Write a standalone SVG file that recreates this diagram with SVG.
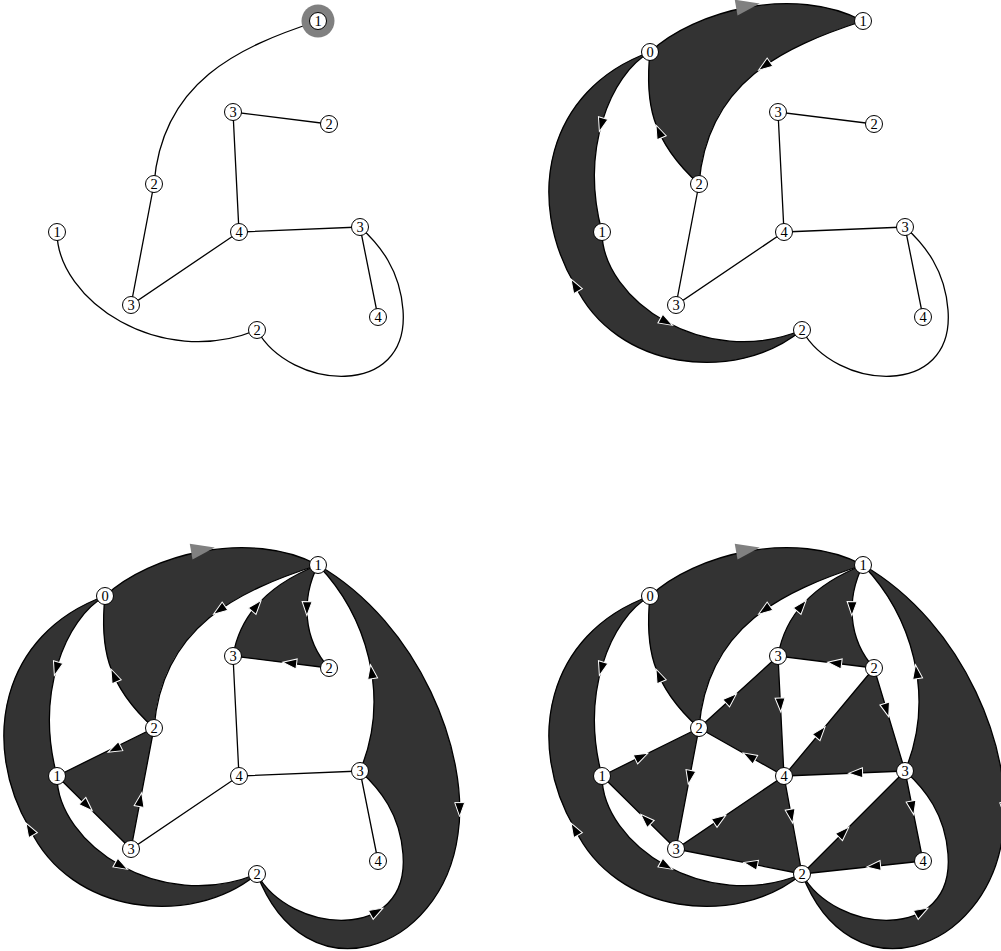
<svg xmlns="http://www.w3.org/2000/svg" xmlns:xlink="http://www.w3.org/1999/xlink" width="1001" height="951" viewBox="0 0 1001 951">
<style>
.edge{fill:none;stroke:#000;stroke-width:1.3}
.face{fill:#333;stroke:none}
.node circle{fill:#fff;stroke:#000;stroke-width:1}
.node text{font-family:"Liberation Serif","DejaVu Serif",serif;font-size:14.5px;text-anchor:middle;fill:#000}
.ah{fill:#000;stroke:#fff;stroke-width:1;stroke-linejoin:miter}
.gah{fill:#808080;stroke:none}
</style>
<defs>
<path id="eA1D2" d="M318,21 C238,47 162,82 154,184"/>
<path id="eK0A1" d="M105,52 C150,10 250,-15 318,21"/>
<path id="eK0D2" d="M105,52 C100,100 105,140 154,184"/>
<path id="eK0E1" d="M105,52 C65,75 35,150 57,232"/>
<path id="eE1J2" d="M57,232 C57,300 160,370 257,330"/>
<path id="eLoop" d="M257,330 C290,390 410,400 403,310 C400,270 380,245 360,227"/>
<path id="eOutL" d="M105,52 C0,90 -20,200 30,285 C70,370 190,385 257,330"/>
<path id="eOutR" d="M318,21 C420,80 470,210 458,290 C442,410 305,455 257,330"/>
<path id="eA1B3" d="M318,21 C270,40 240,70 233,112"/>
<path id="eA1C2" d="M318,21 C301,55 303,95 329,124"/>
<path id="eA1G3" d="M318,21 C365,70 392,150 360,227"/>
<path id="base1" d="M154,184 L131,305 L239,232 L233,112 L329,124 M239,232 L360,227 L378,317"/>
<path id="extra3" d="M57,232 L154,184 M57,232 L131,305"/>
<path id="extra4" d="M154,184 L233,112 M154,184 L239,232 M329,124 L239,232 M329,124 L360,227 M131,305 L257,330 M239,232 L257,330 M360,227 L257,330 M378,317 L257,330"/>
<path id="fTop" d="M105,52 C150,10 250,-15 318,21 C238,47 162,82 154,184 C105,140 100,100 105,52 Z"/>
<path id="fLeft" d="M105,52 C0,90 -20,200 30,285 C70,370 190,385 257,330 C160,370 57,300 57,232 C35,150 65,75 105,52 Z"/>
<path id="fEDH" d="M57,232 L154,184 L131,305 Z"/>
<path id="fABC" d="M318,21 C270,40 240,70 233,112 L329,124 C303,95 301,55 318,21 Z"/>
<path id="fRight" d="M318,21 C420,80 470,210 458,290 C442,410 305,455 257,330 C290,390 410,400 403,310 C400,270 380,245 360,227 C392,150 365,70 318,21 Z"/>
<path id="fDBF" d="M154,184 L233,112 L239,232 Z"/>
<path id="fCGF" d="M329,124 L360,227 L239,232 Z"/>
<path id="fHFJ" d="M131,305 L239,232 L257,330 Z"/>
<path id="fGIJ" d="M360,227 L378,317 L257,330 Z"/>
<polygon id="ah" class="ah" points="8,0 -6,-5 -6,5"/>
<polygon id="gah" class="gah" points="15,0 -9,-8 -9,8"/>
</defs>

<!-- Panel 1 -->
<g id="panel1">
  <g id="p1-connectors">
    <use href="#eA1D2" class="edge"/>
    <use href="#eE1J2" class="edge"/>
    <use href="#eLoop" class="edge"/>
    <use href="#base1" class="edge"/>
  </g>
  <circle id="p1-halo" cx="318" cy="21" r="16.5" fill="#808080"/>
  <g id="p1-A1" class="node" transform="translate(318,21)"><circle r="8.5"/><text y="5">1</text></g>
  <g id="p1-B3" class="node" transform="translate(233,112)"><circle r="8.5"/><text y="5">3</text></g>
  <g id="p1-C2" class="node" transform="translate(329,124)"><circle r="8.5"/><text y="5">2</text></g>
  <g id="p1-D2" class="node" transform="translate(154,184)"><circle r="8.5"/><text y="5">2</text></g>
  <g id="p1-E1" class="node" transform="translate(57,232)"><circle r="8.5"/><text y="5">1</text></g>
  <g id="p1-F4" class="node" transform="translate(239,232)"><circle r="8.5"/><text y="5">4</text></g>
  <g id="p1-G3" class="node" transform="translate(360,227)"><circle r="8.5"/><text y="5">3</text></g>
  <g id="p1-H3" class="node" transform="translate(131,305)"><circle r="8.5"/><text y="5">3</text></g>
  <g id="p1-I4" class="node" transform="translate(378,317)"><circle r="8.5"/><text y="5">4</text></g>
  <g id="p1-J2" class="node" transform="translate(257,330)"><circle r="8.5"/><text y="5">2</text></g>
</g>

<!-- Panel 2 -->
<g id="panel2" transform="translate(545,0)">
  <use href="#fTop" class="face"/>
  <use href="#fLeft" class="face"/>
  <g id="p2-connectors">
    <use href="#eK0A1" class="edge"/>
    <use href="#eA1D2" class="edge"/>
    <use href="#eK0D2" class="edge"/>
    <use href="#eK0E1" class="edge"/>
    <use href="#eOutL" class="edge"/>
    <use href="#eE1J2" class="edge"/>
    <use href="#eLoop" class="edge"/>
    <use href="#base1" class="edge"/>
    <use href="#gah" transform="translate(200,6) rotate(-10)"/>
    <use href="#ah" transform="translate(220.1,65.6) rotate(145)"/>
    <use href="#ah" transform="translate(114.2,132.3) rotate(-114)"/>
    <use href="#ah" transform="translate(56.6,123.8) rotate(106)"/>
    <use href="#ah" transform="translate(30,286) rotate(-120)"/>
    <use href="#ah" transform="translate(120.6,321.5) rotate(29)"/>
  </g>
  <g id="p2-K0" class="node" transform="translate(105,52)"><circle r="8.5"/><text y="5">0</text></g>
  <g id="p2-A1" class="node" transform="translate(318,21)"><circle r="8.5"/><text y="5">1</text></g>
  <g id="p2-B3" class="node" transform="translate(233,112)"><circle r="8.5"/><text y="5">3</text></g>
  <g id="p2-C2" class="node" transform="translate(329,124)"><circle r="8.5"/><text y="5">2</text></g>
  <g id="p2-D2" class="node" transform="translate(154,184)"><circle r="8.5"/><text y="5">2</text></g>
  <g id="p2-E1" class="node" transform="translate(57,232)"><circle r="8.5"/><text y="5">1</text></g>
  <g id="p2-F4" class="node" transform="translate(239,232)"><circle r="8.5"/><text y="5">4</text></g>
  <g id="p2-G3" class="node" transform="translate(360,227)"><circle r="8.5"/><text y="5">3</text></g>
  <g id="p2-H3" class="node" transform="translate(131,305)"><circle r="8.5"/><text y="5">3</text></g>
  <g id="p2-I4" class="node" transform="translate(378,317)"><circle r="8.5"/><text y="5">4</text></g>
  <g id="p2-J2" class="node" transform="translate(257,330)"><circle r="8.5"/><text y="5">2</text></g>
</g>

<!-- Panel 3 -->
<g id="panel3" transform="translate(0,544)">
  <use href="#fTop" class="face"/>
  <use href="#fLeft" class="face"/>
  <use href="#fEDH" class="face"/>
  <use href="#fABC" class="face"/>
  <use href="#fRight" class="face"/>
  <g id="p3-connectors">
    <use href="#eK0A1" class="edge"/>
    <use href="#eA1D2" class="edge"/>
    <use href="#eK0D2" class="edge"/>
    <use href="#eK0E1" class="edge"/>
    <use href="#eOutL" class="edge"/>
    <use href="#eE1J2" class="edge"/>
    <use href="#eLoop" class="edge"/>
    <use href="#eOutR" class="edge"/>
    <use href="#eA1B3" class="edge"/>
    <use href="#eA1C2" class="edge"/>
    <use href="#eA1G3" class="edge"/>
    <use href="#base1" class="edge"/>
    <use href="#extra3" class="edge"/>
    <use href="#gah" transform="translate(200,6) rotate(-10)"/>
    <use href="#ah" transform="translate(220.1,65.6) rotate(145)"/>
    <use href="#ah" transform="translate(114.2,132.3) rotate(-114)"/>
    <use href="#ah" transform="translate(56.6,123.8) rotate(106)"/>
    <use href="#ah" transform="translate(30,286) rotate(-120)"/>
    <use href="#ah" transform="translate(120.6,321.5) rotate(29)"/>
    <use href="#ah" transform="translate(256,62.5) rotate(-50)"/>
    <use href="#ah" transform="translate(307,63.6) rotate(91)"/>
    <use href="#ah" transform="translate(290.6,119.2) rotate(187)"/>
    <use href="#ah" transform="translate(371.7,128.7) rotate(-99)"/>
    <use href="#ah" transform="translate(459.7,264.6) rotate(90)"/>
    <use href="#ah" transform="translate(376,368) rotate(-29)"/>
    <use href="#ah" transform="translate(115.2,204.8) rotate(153.7)"/>
    <use href="#ah" transform="translate(86.6,261.2) rotate(44.6)"/>
    <use href="#ah" transform="translate(140.2,256.6) rotate(-79.2)"/>
  </g>
  <g id="p3-K0" class="node" transform="translate(105,52)"><circle r="8.5"/><text y="5">0</text></g>
  <g id="p3-A1" class="node" transform="translate(318,21)"><circle r="8.5"/><text y="5">1</text></g>
  <g id="p3-B3" class="node" transform="translate(233,112)"><circle r="8.5"/><text y="5">3</text></g>
  <g id="p3-C2" class="node" transform="translate(329,124)"><circle r="8.5"/><text y="5">2</text></g>
  <g id="p3-D2" class="node" transform="translate(154,184)"><circle r="8.5"/><text y="5">2</text></g>
  <g id="p3-E1" class="node" transform="translate(57,232)"><circle r="8.5"/><text y="5">1</text></g>
  <g id="p3-F4" class="node" transform="translate(239,232)"><circle r="8.5"/><text y="5">4</text></g>
  <g id="p3-G3" class="node" transform="translate(360,227)"><circle r="8.5"/><text y="5">3</text></g>
  <g id="p3-H3" class="node" transform="translate(131,305)"><circle r="8.5"/><text y="5">3</text></g>
  <g id="p3-I4" class="node" transform="translate(378,317)"><circle r="8.5"/><text y="5">4</text></g>
  <g id="p3-J2" class="node" transform="translate(257,330)"><circle r="8.5"/><text y="5">2</text></g>
</g>

<!-- Panel 4 -->
<g id="panel4" transform="translate(545,544)">
  <use href="#fTop" class="face"/>
  <use href="#fLeft" class="face"/>
  <use href="#fEDH" class="face"/>
  <use href="#fABC" class="face"/>
  <use href="#fRight" class="face"/>
  <use href="#fDBF" class="face"/>
  <use href="#fCGF" class="face"/>
  <use href="#fHFJ" class="face"/>
  <use href="#fGIJ" class="face"/>
  <g id="p4-connectors">
    <use href="#eK0A1" class="edge"/>
    <use href="#eA1D2" class="edge"/>
    <use href="#eK0D2" class="edge"/>
    <use href="#eK0E1" class="edge"/>
    <use href="#eOutL" class="edge"/>
    <use href="#eE1J2" class="edge"/>
    <use href="#eLoop" class="edge"/>
    <use href="#eOutR" class="edge"/>
    <use href="#eA1B3" class="edge"/>
    <use href="#eA1C2" class="edge"/>
    <use href="#eA1G3" class="edge"/>
    <use href="#base1" class="edge"/>
    <use href="#extra3" class="edge"/>
    <use href="#extra4" class="edge"/>
    <use href="#gah" transform="translate(200,6) rotate(-10)"/>
    <use href="#ah" transform="translate(220.1,65.6) rotate(145)"/>
    <use href="#ah" transform="translate(114.2,132.3) rotate(-114)"/>
    <use href="#ah" transform="translate(56.6,123.8) rotate(106)"/>
    <use href="#ah" transform="translate(30,286) rotate(-120)"/>
    <use href="#ah" transform="translate(120.6,321.5) rotate(29)"/>
    <use href="#ah" transform="translate(256,62.5) rotate(-50)"/>
    <use href="#ah" transform="translate(307,63.6) rotate(91)"/>
    <use href="#ah" transform="translate(290.6,119.2) rotate(187)"/>
    <use href="#ah" transform="translate(371.7,128.7) rotate(-99)"/>
    <use href="#ah" transform="translate(459.7,264.6) rotate(90)"/>
    <use href="#ah" transform="translate(376,368) rotate(-29)"/>
    <use href="#ah" transform="translate(95.8,212.8) rotate(-26.3)"/>
    <use href="#ah" transform="translate(144.8,232.4) rotate(100.8)"/>
    <use href="#ah" transform="translate(101.4,275.8) rotate(-135.4)"/>
    <use href="#ah" transform="translate(185.6,155.2) rotate(-42.3)"/>
    <use href="#ah" transform="translate(235.4,160) rotate(87.1)"/>
    <use href="#ah" transform="translate(205,212.8) rotate(-150.5)"/>
    <use href="#ah" transform="translate(275,188.8) rotate(-50.2)"/>
    <use href="#ah" transform="translate(341.4,165.2) rotate(73.2)"/>
    <use href="#ah" transform="translate(311.6,229) rotate(177.6)"/>
    <use href="#ah" transform="translate(174.2,275.8) rotate(-34.1)"/>
    <use href="#ah" transform="translate(246.2,271.2) rotate(79.6)"/>
    <use href="#ah" transform="translate(206.6,320) rotate(191.2)"/>
    <use href="#ah" transform="translate(298.2,288.8) rotate(-45)"/>
    <use href="#ah" transform="translate(367.2,263) rotate(78.7)"/>
    <use href="#ah" transform="translate(329.6,322.2) rotate(173.9)"/>
  </g>
  <g id="p4-K0" class="node" transform="translate(105,52)"><circle r="8.5"/><text y="5">0</text></g>
  <g id="p4-A1" class="node" transform="translate(318,21)"><circle r="8.5"/><text y="5">1</text></g>
  <g id="p4-B3" class="node" transform="translate(233,112)"><circle r="8.5"/><text y="5">3</text></g>
  <g id="p4-C2" class="node" transform="translate(329,124)"><circle r="8.5"/><text y="5">2</text></g>
  <g id="p4-D2" class="node" transform="translate(154,184)"><circle r="8.5"/><text y="5">2</text></g>
  <g id="p4-E1" class="node" transform="translate(57,232)"><circle r="8.5"/><text y="5">1</text></g>
  <g id="p4-F4" class="node" transform="translate(239,232)"><circle r="8.5"/><text y="5">4</text></g>
  <g id="p4-G3" class="node" transform="translate(360,227)"><circle r="8.5"/><text y="5">3</text></g>
  <g id="p4-H3" class="node" transform="translate(131,305)"><circle r="8.5"/><text y="5">3</text></g>
  <g id="p4-I4" class="node" transform="translate(378,317)"><circle r="8.5"/><text y="5">4</text></g>
  <g id="p4-J2" class="node" transform="translate(257,330)"><circle r="8.5"/><text y="5">2</text></g>
</g>
</svg>
